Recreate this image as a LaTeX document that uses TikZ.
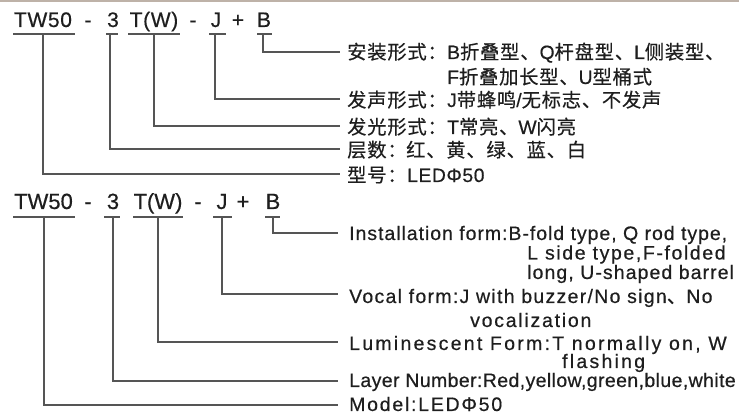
\documentclass[tikz,border=0pt]{standalone}
\usepackage{fontspec}
\setmainfont{Liberation Sans}[FakeBold=0.5]
\newfontfamily\cjk[LetterSpace=4,FakeBold=0.3]{Noto Sans CJK SC}
\newfontfamily\topl[LetterSpace=3,FakeBold=0.5]{Liberation Sans}
\newcommand\lat[1]{{\topl #1}}
\newcommand\lsp[2]{{\addfontfeature{LetterSpace=#1}#2}}
\definecolor{txt}{RGB}{30,30,30}
\definecolor{ln}{RGB}{85,85,85}
\definecolor{brd}{RGB}{190,178,168}
\begin{document}
\begin{tikzpicture}[x=1pt,y=-1pt,
  codeA/.style={inner sep=0pt, anchor=base, text=txt, font=\fontsize{21}{21}\selectfont},
  codeB/.style={inner sep=0pt, anchor=base, text=txt, font=\fontsize{22}{22}\selectfont},
  labT/.style={inner sep=0pt, anchor=base west, text=txt, font=\fontsize{19.3}{20}\selectfont\cjk},
  labE/.style={inner sep=0pt, anchor=base west, text=txt, font=\fontsize{19.5}{20}\selectfont},
  uline/.style={draw=ln, line width=1.2pt},
  conn/.style={draw=ln, line width=1.2pt}]
\useasboundingbox (0,0) rectangle (739,419);
\fill[white] (0,0) rectangle (739,419);
\draw[brd, line width=1.6pt] (0,0.8) -- (739,0.8);

% ---------- top (Chinese) ----------
\node[codeA] (tTW) at (43,27) {\lsp{3}{TW50}};
\node[codeA] (td1) at (88,27) {-};
\node[codeA] (t3)  at (113,27) {3};
\node[codeA] (tT)  at (154,27) {\lsp{3}{T(W)}};
\node[codeA] (td2) at (193,27) {-};
\node[codeA] (tJ)  at (216,27) {J};
\node[codeA] (tp)  at (238,27) {+};
\node[codeA] (tB)  at (264,27) {B};
\draw[uline] (13,34) -- (75,34);
\draw[uline] (106,34) -- (118,34);
\draw[uline] (128,34) -- (180,34);
\draw[uline] (209,34) -- (226,34);
\draw[uline] (257,34) -- (272,34);

\coordinate (tuB) at (263,34);  \coordinate (teB) at (340,52);
\coordinate (tuJ) at (215,34);  \coordinate (teJ) at (340,99);
\coordinate (tuT) at (154,34);  \coordinate (teT) at (340,126);
\coordinate (tu3) at (110,34);  \coordinate (te3) at (340,149);
\coordinate (tuW) at (43,34);   \coordinate (teW) at (340,174);
\draw[conn] (tuB) |- (teB);
\draw[conn] (tuJ) |- (teJ);
\draw[conn] (tuT) |- (teT);
\draw[conn] (tu3) |- (te3);
\draw[conn] (tuW) |- (teW);

\node[labT] (tl1)  at (347,59)  {安装形式：};
\node[labT] (tv1)  at (447,59)  {\lat{B}折叠型、\lat{Q}杆盘型、\lat{L}侧装型、};
\node[labT] (tv1b) at (447,84)  {\lat{F}折叠加长型、\lat{U}型桶式};
\node[labT] (tl2)  at (347,107) {发声形式：};
\node[labT] (tv2)  at (447,107) {\lat{J}带蜂鸣\lat{/}无标志、不发声};
\node[labT] (tl3)  at (347,134) {发光形式：};
\node[labT] (tv3)  at (447,134) {\lat{T}常亮、\lat{W}闪亮};
\node[labT] (tl4)  at (347,157) {层数：};
\node[labT] (tv4)  at (406,157) {红、黄、绿、蓝、白};
\node[labT] (tl5)  at (347,182) {型号：};
\node[labT] (tv5)  at (407,182) {\lat{LEDΦ50}};

% ---------- bottom (English) ----------
\node[codeB] (bTW) at (43.5,209) {TW50};
\node[codeB] (bd1) at (88,209) {-};
\node[codeB] (b3)  at (113,209) {3};
\node[codeB] (bT)  at (158,209) {T(W)};
\node[codeB] (bd2) at (198,209) {-};
\node[codeB] (bJ)  at (222,209) {J};
\node[codeB] (bp)  at (243,209) {+};
\node[codeB] (bB)  at (273,209) {B};
\draw[uline] (13,217) -- (75,217);
\draw[uline] (104,217) -- (120,217);
\draw[uline] (133,217) -- (183,217);
\draw[uline] (213,217) -- (232,217);
\draw[uline] (265,217) -- (280,217);

\coordinate (buB) at (273,217);  \coordinate (beB) at (338,233);
\coordinate (buJ) at (222,217);  \coordinate (beJ) at (338,294);
\coordinate (buT) at (158,217);  \coordinate (beT) at (338,342);
\coordinate (bu3) at (113,217);  \coordinate (be3) at (338,381);
\coordinate (buW) at (44,217);   \coordinate (beW) at (338,405);
\draw[conn] (buB) |- (beB);
\draw[conn] (buJ) |- (beJ);
\draw[conn] (buT) |- (beT);
\draw[conn] (bu3) |- (be3);
\draw[conn] (buW) |- (beW);

\node[labE] (e1)  at (349,240) {\lsp{4.9}{Installation form:B-fold type, Q rod type,}};
\node[labE] (e1b) at (527,259.5) {\lsp{8.2}{L side type,F-folded}};
\node[labE] (e1c) at (527,279) {\lsp{5.5}{long, U-shaped barrel}};
\node[labE] (e2)  at (349,303) {\lsp{6.6}{Vocal form:J with buzzer/No sign{\cjk 、}No}};
\node[labE] (e2b) at (470,327) {\lsp{9}{vocalization}};
\node[labE] (e3)  at (349,350) {\lsp{11.6}{Luminescent Form:T normally on, W}};
\node[labE] (e3b) at (562,368) {\lsp{11.5}{flashing}};
\node[labE] (e4)  at (349,387) {\lsp{2}{Layer Number:Red,yellow,green,blue,white}};
\node[labE] (e5)  at (349,411) {\lsp{9}{Model:LEDΦ50}};
\end{tikzpicture}
\end{document}
